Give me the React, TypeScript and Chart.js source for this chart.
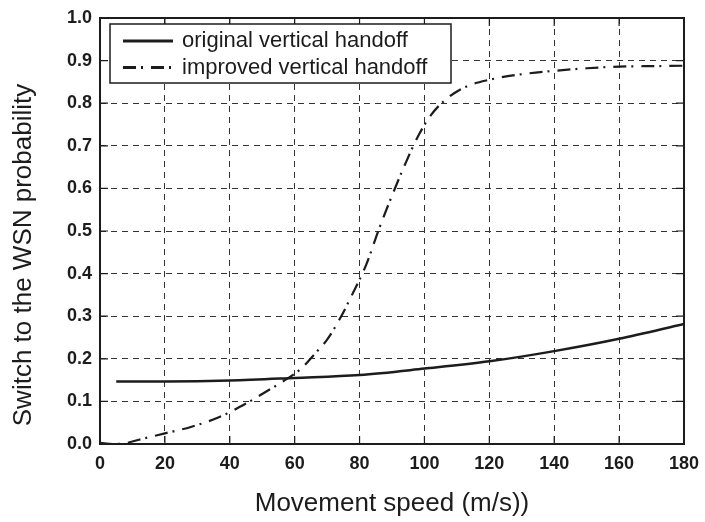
import React, { useEffect, useRef } from 'react';
import { Chart, registerables } from 'chart.js';

Chart.register(...registerables);

const xTicks = [0, 20, 40, 60, 80, 100, 120, 140, 160, 180];
const yTicks = [0, 0.1, 0.2, 0.3, 0.4, 0.5, 0.6, 0.7, 0.8, 0.9, 1.0];

const originalLabel = 'original vertical handoff';
const originalSpeeds = [5, 20, 40, 60, 80, 100, 120, 140, 160, 180];
const originalProb = [0.147, 0.147, 0.149, 0.155, 0.162, 0.177, 0.194, 0.218, 0.247, 0.282];

const improvedLabel = 'improved vertical handoff';
const improvedSpeeds = [0, 4, 8, 12, 20, 28, 37, 45, 51, 57, 62, 66, 70, 74, 78, 82, 86, 90, 94, 98, 102, 106, 112, 120, 130, 140, 150, 160, 170, 180];
const improvedProb = [0.003, 0.0, 0.002, 0.01, 0.025, 0.04, 0.064, 0.095, 0.122, 0.15, 0.177, 0.21, 0.245, 0.295, 0.355, 0.42, 0.505, 0.583, 0.656, 0.722, 0.772, 0.805, 0.836, 0.855, 0.868, 0.876, 0.882, 0.886, 0.887, 0.888];

const xTitle = 'Movement speed (m/s))';
const yTitle = 'Switch to the WSN probability';

const FONT = "'Liberation Sans', Arial, sans-serif";
const INK = '#1c1c1c';

const decorPlugin = {
  id: 'decor',
  afterDraw(chart: any) {
    const { ctx, chartArea } = chart;
    const { left, right, top, bottom } = chartArea;
    const xs = chart.scales.x;
    const ys = chart.scales.y;
    ctx.save();
    // inward ticks
    ctx.strokeStyle = INK;
    ctx.lineWidth = 1.2;
    ctx.setLineDash([]);
    const tl = 8;
    xTicks.forEach((v) => {
      const px = xs.getPixelForValue(v);
      ctx.beginPath();
      ctx.moveTo(px, bottom);
      ctx.lineTo(px, bottom - tl);
      ctx.moveTo(px, top);
      ctx.lineTo(px, top + tl);
      ctx.stroke();
    });
    yTicks.forEach((v) => {
      const py = ys.getPixelForValue(v);
      ctx.beginPath();
      ctx.moveTo(left, py);
      ctx.lineTo(left + tl, py);
      ctx.moveTo(right, py);
      ctx.lineTo(right - tl, py);
      ctx.stroke();
    });
    // frame
    ctx.lineWidth = 2;
    ctx.strokeRect(left, top, right - left, bottom - top);

    // legend
    const lx = left + 10;
    const ly = top + 6;
    const lw = 341;
    const lh = 59;
    ctx.fillStyle = '#ffffff';
    ctx.fillRect(lx, ly, lw, lh);
    ctx.lineWidth = 1.5;
    ctx.strokeStyle = INK;
    ctx.strokeRect(lx, ly, lw, lh);
    const ds = chart.data.datasets;
    const rows = [ly + 17, ly + 43.5];
    ds.forEach((d: any, i: number) => {
      const y = rows[i];
      ctx.beginPath();
      ctx.setLineDash(d.borderDash || []);
      ctx.lineWidth = 3;
      ctx.strokeStyle = INK;
      ctx.moveTo(lx + 13, y);
      ctx.lineTo(lx + 63, y);
      ctx.stroke();
      ctx.setLineDash([]);
      ctx.fillStyle = INK;
      ctx.font = `22px ${FONT}`;
      ctx.textAlign = 'left';
      ctx.textBaseline = 'middle';
      ctx.fillText(d.label, lx + 72, y);
    });

    // y title
    ctx.save();
    ctx.translate(24, 255);
    ctx.rotate(-Math.PI / 2);
    ctx.fillStyle = INK;
    ctx.font = `26px ${FONT}`;
    ctx.textAlign = 'center';
    ctx.textBaseline = 'middle';
    ctx.fillText(yTitle, 0, 0);
    ctx.restore();

    ctx.restore();
  },
};

export default function App() {
  const ref = useRef<HTMLCanvasElement | null>(null);
  useEffect(() => {
    document.body.style.margin = '0';
    if (!ref.current) return;
    const chart = new Chart(ref.current, {
      type: 'line',
      data: {
        datasets: [
          {
            label: originalLabel,
            data: originalSpeeds.map((x, i) => ({ x, y: originalProb[i] })),
            borderColor: INK,
            borderWidth: 2.5,
            pointRadius: 0,
            fill: false,
            cubicInterpolationMode: 'monotone',
          },
          {
            label: improvedLabel,
            data: improvedSpeeds.map((x, i) => ({ x, y: improvedProb[i] })),
            borderColor: INK,
            borderWidth: 2.2,
            borderDash: [13, 5, 2, 8],
            pointRadius: 0,
            fill: false,
            cubicInterpolationMode: 'monotone',
          },
        ],
      },
      options: {
        animation: false,
        responsive: false,
        events: [],
        layout: { padding: { left: 0, right: 21, top: 18, bottom: 0 } },
        plugins: { legend: { display: false }, tooltip: { enabled: false } },
        scales: {
          x: {
            type: 'linear',
            min: 0,
            max: 180,
            afterFit: (s: any) => {
              s.height = 78;
              s.paddingLeft = 0;
              s.paddingRight = 0;
            },
            afterBuildTicks: (s: any) => { s.ticks = xTicks.map((v) => ({ value: v })); },
            ticks: {
              padding: 9,
              color: INK,
              font: { family: FONT, size: 18, weight: 'bold' },
              maxRotation: 0,
              autoSkip: false,
            },
            grid: { color: '#333', lineWidth: 1, drawTicks: false },
            border: { display: false, dash: [6, 5] },
            title: {
              display: true,
              text: xTitle,
              color: INK,
              font: { family: FONT, size: 26 },
              padding: { top: 0, bottom: 3 },
            },
          },
          y: {
            type: 'linear',
            min: 0,
            max: 1,
            afterFit: (s: any) => {
              s.width = 100;
              s.paddingTop = 0;
              s.paddingBottom = 0;
            },
            afterBuildTicks: (s: any) => { s.ticks = yTicks.map((v) => ({ value: v })); },
            ticks: {
              padding: 8,
              color: INK,
              font: { family: FONT, size: 18, weight: 'bold' },
              callback: (v: any) => Number(v).toFixed(1),
              autoSkip: false,
            },
            grid: { color: '#333', lineWidth: 1, drawTicks: false },
            border: { display: false, dash: [6, 5] },
          },
        },
      },
      plugins: [decorPlugin],
    } as any);
    return () => chart.destroy();
  }, []);
  return (
    <div style={{ width: 705, height: 522, background: '#fff' }}>
      <canvas ref={ref} width={705} height={522} style={{ display: 'block' }} />
    </div>
  );
}
